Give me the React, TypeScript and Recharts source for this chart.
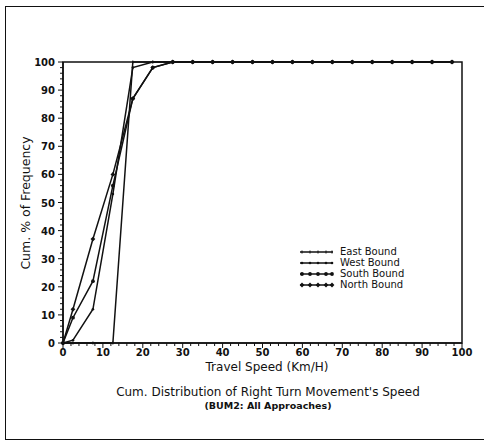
import React from 'react';
import { LineChart, Line, XAxis, YAxis, ReferenceArea } from 'recharts';

// bin midpoints (km/h)
const speeds = [0, 2.5, 7.5, 12.5, 17.5, 22.5, 27.5, 32.5, 37.5, 42.5, 47.5, 52.5, 57.5, 62.5, 67.5, 72.5, 77.5, 82.5, 87.5, 92.5, 97.5];

const eastBound = [0, 0, 0, 0, 100, 100, 100, 100, 100, 100, 100, 100, 100, 100, 100, 100, 100, 100, 100, 100, 100];
const westBound = [0, 1, 12, 53, 98, 100, 100, 100, 100, 100, 100, 100, 100, 100, 100, 100, 100, 100, 100, 100, 100];
const southBound = [0, 9, 22, 56, 87, 98, 100, 100, 100, 100, 100, 100, 100, 100, 100, 100, 100, 100, 100, 100, 100];
const northBound = [0, 12, 37, 60, 87, 98, 100, 100, 100, 100, 100, 100, 100, 100, 100, 100, 100, 100, 100, 100, 100];

const xTicks = [0, 2, 4, 6, 8, 10, 12, 14, 16, 18, 20, 22, 24, 26, 28, 30, 32, 34, 36, 38, 40, 42, 44, 46, 48, 50, 52, 54, 56, 58, 60, 62, 64, 66, 68, 70, 72, 74, 76, 78, 80, 82, 84, 86, 88, 90, 92, 94, 96, 98, 100];
const yTicks = [0, 2, 4, 6, 8, 10, 12, 14, 16, 18, 20, 22, 24, 26, 28, 30, 32, 34, 36, 38, 40, 42, 44, 46, 48, 50, 52, 54, 56, 58, 60, 62, 64, 66, 68, 70, 72, 74, 76, 78, 80, 82, 84, 86, 88, 90, 92, 94, 96, 98, 100];

const data = speeds.map((s, i) => ({
  speed: s,
  east: eastBound[i],
  west: westBound[i],
  south: southBound[i],
  north: northBound[i],
}));

const FONT = '"DejaVu Sans", sans-serif';
const INK = '#111';

const markerFor = (key: string, cx: number, cy: number, k: string | number) => {
  if (key === 'east') return <line key={k} x1={cx} y1={cy - 1.5} x2={cx} y2={cy + 1.5} stroke={INK} strokeWidth={1} />;
  if (key === 'west') return <circle key={k} cx={cx} cy={cy} r={1.3} fill={INK} />;
  if (key === 'south') return <circle key={k} cx={cx} cy={cy} r={1.9} fill={INK} />;
  return <path key={k} d={`M${cx},${cy - 2.4}L${cx + 2.4},${cy}L${cx},${cy + 2.4}L${cx - 2.4},${cy}Z`} fill={INK} />;
};

const makeDot = (key: string) => (p: any) => {
  if (p.cx == null || p.cy == null) return <g key={p.index} />;
  return markerFor(key, p.cx, p.cy, p.index);
};

const XTick = (props: any) => {
  const { x, y, payload } = props;
  const major = payload.value % 10 === 0;
  return (
    <g>
      <line x1={x} y1={y} x2={x} y2={y + (major ? 5 : 3)} stroke={INK} strokeWidth={1} />
      {major && (
        <text x={x} y={y + 13} textAnchor="middle" fontFamily={FONT} fontSize={10} fontWeight="bold" fill={INK}>
          {payload.value}
        </text>
      )}
    </g>
  );
};

const YTick = (props: any) => {
  const { x, y, payload } = props;
  const major = payload.value % 10 === 0;
  return (
    <g>
      <line x1={x} y1={y} x2={x - (major ? 5 : 3)} y2={y} stroke={INK} strokeWidth={1} />
      {major && (
        <text x={x - 8} y={y + 4} textAnchor="end" fontFamily={FONT} fontSize={10} fontWeight="bold" fill={INK}>
          {payload.value}
        </text>
      )}
    </g>
  );
};

const legendRows = [
  { key: 'east', label: 'East Bound' },
  { key: 'west', label: 'West Bound' },
  { key: 'south', label: 'South Bound' },
  { key: 'north', label: 'North Bound' },
];

const LegendBox = () => (
  <div style={{ fontFamily: FONT, fontSize: 10, color: INK, lineHeight: '11px' }}>
    {legendRows.map((r) => (
      <div key={r.key} style={{ display: 'flex', alignItems: 'center', height: 11 }}>
        <svg width={36} height={8} style={{ marginRight: 5 }}>
          <line x1={1} y1={4} x2={34} y2={4} stroke={INK} strokeWidth={1.5} />
          {[3, 11, 19, 27, 33].map((cx, i) => markerFor(r.key, cx, 4, i))}
        </svg>
        <span>{r.label}</span>
      </div>
    ))}
  </div>
);

const textStyle = (left: number, top: number, size: number, bold = false): React.CSSProperties => ({
  position: 'absolute',
  left,
  top,
  transform: 'translate(-50%, -50%)',
  whiteSpace: 'nowrap',
  fontFamily: FONT,
  fontSize: size,
  fontWeight: bold ? 'bold' : 'normal',
  color: INK,
});

const App: React.FC = () => {
  const series = ['east', 'west', 'south', 'north'];
  return (
    <div style={{ position: 'absolute', left: 0, top: 0, width: 486, height: 444, background: '#fff', overflow: 'hidden' }}>
      <div
        style={{
          position: 'absolute',
          left: 5,
          top: 6,
          width: 478,
          height: 432,
          border: `1.5px solid ${INK}`,
          borderRight: 'none',
        }}
      />
      <div style={{ position: 'absolute', left: 0, top: 0 }}>
        <LineChart width={486} height={444} data={data} margin={{ top: 62, right: 24, bottom: 71, left: 0 }}>
          <XAxis
            dataKey="speed"
            type="number"
            domain={[0, 100]}
            ticks={xTicks}
            interval={0}
            tick={<XTick />}
            tickLine={false}
            tickSize={0}
            tickMargin={0}
            axisLine={{ stroke: INK, strokeWidth: 1.5 }}
            height={30}
          />
          <YAxis
            type="number"
            domain={[0, 100]}
            ticks={yTicks}
            interval={0}
            tick={<YTick />}
            tickLine={false}
            tickSize={0}
            tickMargin={0}
            axisLine={{ stroke: INK, strokeWidth: 1.5 }}
            width={63}
          />
          <ReferenceArea x1={0} x2={100} y1={0} y2={100} fill="none" stroke={INK} strokeWidth={1.5} />
          {series.map((s) => (
            <Line
              key={s}
              dataKey={s}
              type="linear"
              stroke={INK}
              strokeWidth={1.5}
              dot={makeDot(s)}
              activeDot={false}
              isAnimationActive={false}
            />
          ))}
        </LineChart>
      </div>
      <div style={{ position: 'absolute', left: 299, top: 246 }}>
        <LegendBox />
      </div>
      <div style={{ ...textStyle(25, 203, 12.5), transform: 'translate(-50%, -50%) rotate(-90deg)' }}>
        Cum. % of Frequency
      </div>
      <div style={textStyle(267, 367, 12)}>Travel Speed (Km/H)</div>
      <div style={textStyle(268, 392, 12)}>Cum. Distribution of Right Turn Movement's Speed</div>
      <div style={textStyle(268, 405, 9.5, true)}>(BUM2: All Approaches)</div>
    </div>
  );
};

export default App;
